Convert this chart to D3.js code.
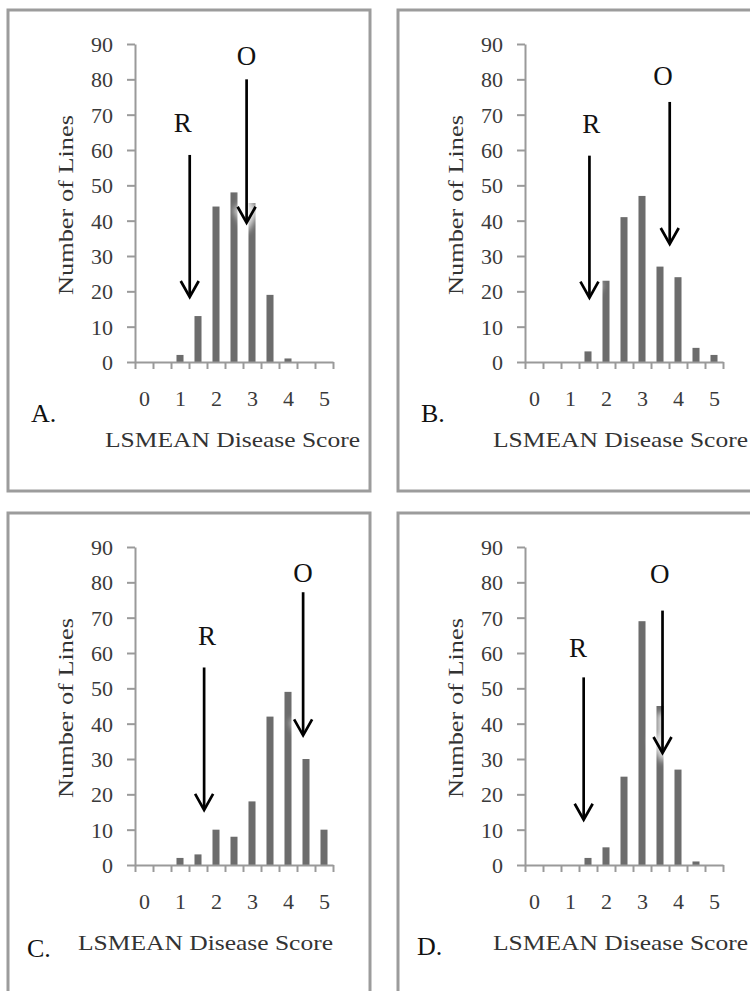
<!DOCTYPE html>
<html>
<head>
<meta charset="utf-8">
<script src="https://cdn.jsdelivr.net/npm/d3@7"></script>
<style>
  body { margin: 0; background: #fff; }
  svg { display: block; }
  .frame { fill: none; stroke: #9c9c9c; stroke-width: 3; }
  .bar { fill: #6c6c6c; }
  .axis path, .axis line { stroke: #9a9a9a; stroke-width: 2; }
  .axis text { font-family: "Liberation Serif", serif; fill: #3a3a3a; }
  .axis-title { font-family: "Liberation Serif", serif; fill: #333; }
  .panel-letter { font-family: "Liberation Serif", serif; fill: #111; font-size: 26px; }
  .mark-text { font-family: "Liberation Serif", serif; fill: #111; font-size: 27px; text-anchor: middle; }
  .arrow { stroke: #000; stroke-width: 2.7; fill: none; }
  .glow { stroke: #fff; stroke-width: 10; fill: none; opacity: 0.85; }
</style>
</head>
<body>
<svg width="750" height="991"></svg>
<script>
// histogram bins (LSMEAN disease score), one bar per half point
var scoreBins = ['0', '0.5', '1', '1.5', '2', '2.5', '3', '3.5', '4', '4.5', '5'];
var xTickLabels = ['0', '1', '2', '3', '4', '5'];
var yTicks = [0, 10, 20, 30, 40, 50, 60, 70, 80, 90];

// number of lines per bin
var countsA = [0, 0, 2, 13, 44, 48, 45, 19, 1, 0, 0];
var countsB = [0, 0, 0, 3, 23, 41, 47, 27, 24, 4, 2];
var countsC = [0, 0, 2, 3, 10, 8, 18, 42, 49, 30, 10];
var countsD = [0, 0, 0, 2, 5, 25, 69, 45, 27, 1, 0];

// parent markers: score of the arrow, arrow from/to (lines), label score/height
var arrowsA = [
  {mark: 'R', score: 1.27, from: 58.6, to: 18.4, labelScore: 1.08, labelAt: 65},
  {mark: 'O', score: 2.85, from: 80, to: 39.4, labelScore: 2.85, labelAt: 84}
];
var arrowsB = [
  {mark: 'R', score: 1.54, from: 58.4, to: 18.2, labelScore: 1.59, labelAt: 64.8},
  {mark: 'O', score: 3.77, from: 73.6, to: 33.4, labelScore: 3.58, labelAt: 78.4}
];
var arrowsC = [
  {mark: 'R', score: 1.67, from: 55.9, to: 15.6, labelScore: 1.75, labelAt: 62.2},
  {mark: 'O', score: 4.42, from: 77.2, to: 36.7, labelScore: 4.42, labelAt: 80}
];
var arrowsD = [
  {mark: 'R', score: 1.38, from: 53.1, to: 12.8, labelScore: 1.22, labelAt: 58.9},
  {mark: 'O', score: 3.57, from: 72, to: 31.7, labelScore: 3.49, labelAt: 79.9}
];

var panelLetters = ['A.', 'B.', 'C.', 'D.'];
var xTitle = 'LSMEAN Disease Score';
var yTitle = 'Number of Lines';

function HistPanel(svg, layout){
  this.svg = svg;
  this.layout = layout;
}

HistPanel.prototype.render = function(counts, arrows, letter){
  var L = this.layout;
  var g = this.svg.append('g')
    .attr('transform', 'translate(' + L.ox + ',' + L.oy + ')');
  this.g = g;

  g.append('rect').attr('class', 'frame')
    .attr('x', 8).attr('y', 10).attr('width', 362).attr('height', 481);

  var x = d3.scaleBand().domain(scoreBins).range([135, 333])
    .paddingInner(0.61).paddingOuter(0.305);
  var y = d3.scaleLinear().domain([0, 90]).range([362, 44]);
  var xs = d3.scaleLinear().domain([0, 5])
    .range([135 + x.step() / 2, 333 - x.step() / 2]);
  var xb = d3.scaleLinear().domain([0, scoreBins.length]).range([135, 333]);

  // bars
  g.selectAll('rect.bar').data(counts).enter().append('rect')
    .attr('class', 'bar')
    .attr('x', function(d, i){ return x(scoreBins[i]); })
    .attr('y', function(d){ return y(d); })
    .attr('width', x.bandwidth())
    .attr('height', function(d){ return y(0) - y(d); });

  // y axis
  var ya = g.append('g').attr('class', 'axis').attr('transform', 'translate(135,0)')
    .call(d3.axisLeft(y).tickValues(yTicks).tickSize(8).tickPadding(14).tickSizeOuter(0));
  ya.selectAll('text').style('font-size', '22px').attr('dy', '0.34em');

  // x axis: boundary ticks
  g.append('g').attr('class', 'axis').attr('transform', 'translate(0,362)')
    .call(d3.axisBottom(xb).tickValues(d3.range(scoreBins.length + 1))
      .tickSize(7).tickSizeOuter(0).tickFormat(''));

  // x labels on whole scores
  var xa = g.append('g').attr('class', 'axis').attr('transform', 'translate(0,362)')
    .call(d3.axisBottom(xs).tickValues(xTickLabels.map(Number)).tickSize(0)
      .tickFormat(function(d){ return String(d); }));
  xa.select('.domain').remove();
  xa.selectAll('text').attr('y', 44).attr('dy', 0).style('font-size', '22px');

  // titles
  g.append('text').attr('class', 'axis-title')
    .attr('transform', 'translate(73,' + (y(45) + 2) + ') rotate(-90)')
    .attr('text-anchor', 'middle')
    .attr('textLength', 180).attr('lengthAdjust', 'spacingAndGlyphs')
    .style('font-size', '22px')
    .text(yTitle);

  g.append('text').attr('class', 'axis-title')
    .attr('x', L.titleX).attr('y', 447)
    .attr('textLength', 255).attr('lengthAdjust', 'spacingAndGlyphs')
    .style('font-size', '21px')
    .text(xTitle);

  g.append('text').attr('class', 'panel-letter')
    .attr('x', L.letterX).attr('y', L.letterY)
    .text(letter);

  this.addArrows(arrows, xs, y);
};

HistPanel.prototype.addArrows = function(arrows, xs, y){
  var g = this.g;
  arrows.forEach(function(a){
    var ax = xs(a.score), tip = y(a.to);
    var head = 'M' + (ax - 9) + ',' + (tip - 16) + 'L' + ax + ',' + tip + 'L' + (ax + 9) + ',' + (tip - 16);
    g.append('path').attr('class', 'glow')
      .attr('filter', 'url(#soft)')
      .attr('d', head + 'M' + ax + ',' + (tip - 40) + 'L' + ax + ',' + tip);
    g.append('line').attr('class', 'arrow')
      .attr('x1', ax).attr('x2', ax)
      .attr('y1', y(a.from)).attr('y2', tip - 1);
    g.append('path').attr('class', 'arrow')
      .attr('stroke-linejoin', 'miter')
      .attr('d', head);
    g.append('text').attr('class', 'mark-text')
      .attr('x', xs(a.labelScore)).attr('y', y(a.labelAt))
      .text(a.mark);
  });
};

var svg = d3.select('svg');
svg.append('defs').append('filter').attr('id', 'soft')
  .attr('x', '-50%').attr('y', '-50%').attr('width', '200%').attr('height', '200%')
  .append('feGaussianBlur').attr('stdDeviation', 3);

var layouts = [
  {ox: 0, oy: 0, titleX: 105, letterX: 31, letterY: 422},
  {ox: 390, oy: 0, titleX: 103, letterX: 31, letterY: 422},
  {ox: 0, oy: 503, titleX: 78, letterX: 27, letterY: 454},
  {ox: 390, oy: 503, titleX: 103, letterX: 27, letterY: 452}
];
var allCounts = [countsA, countsB, countsC, countsD];
var allArrows = [arrowsA, arrowsB, arrowsC, arrowsD];

layouts.forEach(function(L, i){
  new HistPanel(svg, L).render(allCounts[i], allArrows[i], panelLetters[i]);
});
</script>
</body>
</html>
